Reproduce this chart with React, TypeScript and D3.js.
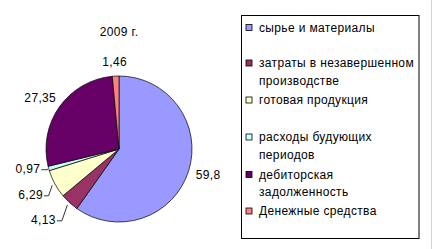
import React from "react";
import * as d3 from "d3";

const title = "2009 г.";
const categories = [
  "сырье и материалы",
  "затраты в незавершенном производстве",
  "готовая продукция",
  "расходы будующих периодов",
  "дебиторская задолженность",
  "Денежные средства",
];
const legendLines = [
  ["сырье и материалы"],
  ["затраты в незавершенном", "производстве"],
  ["готовая продукция"],
  ["расходы будующих", "периодов"],
  ["дебиторская", "задолженность"],
  ["Денежные средства"],
];
const values = [59.8, 4.13, 6.29, 0.97, 27.35, 1.46];
const valueLabels = ["59,8", "4,13", "6,29", "0,97", "27,35", "1,46"];
const colors = ["#9999FF", "#993366", "#FFFFCC", "#CCFFFF", "#660066", "#FF8080"];

// layout
const W = 433;
const H = 249;
const CX = 119;
const CY = 149;
const R = 73;
const FONT = "'Liberation Sans', Arial, sans-serif";
const FS = 12;
const LS = 0.35;
// labels pulled out with leader lines: drop of the leader and length of its horizontal tail
const leaderLayout: Record<number, { gap: number; drop: number; tail: number }> = {
  1: { gap: 3, drop: 16, tail: 5 },
  2: { gap: 3, drop: 10.5, tail: 4.5 },
  3: { gap: 1, drop: 1, tail: 6 },
};
const legendRowCenters = [27.5, 63, 100, 137, 174.5, 211];
const legendLineH = 17.5;

export default function App() {
  const pie = d3.pie<number>().sort(null).value((d) => d);
  const arcs = pie(values);
  const arc = d3.arc<d3.PieArcDatum<number>>().innerRadius(0).outerRadius(R);
  const pt = (a: number, r: number): [number, number] => [
    Math.sin(a) * r,
    -Math.cos(a) * r,
  ];

  return (
    <svg
      width={W}
      height={H}
      style={{ position: "absolute", left: 0, top: 0, background: "#fff" }}
      fontFamily={FONT}
      fontSize={FS}
      letterSpacing={LS}
    >
      <rect x={0} y={0} width={W} height={H} fill="#fff" />
      <line x1={431.5} x2={431.5} y1={0} y2={H} stroke="#d4d4d4" />
      <text x={CX} y={36} textAnchor="middle" fill="#000">
        {title}
      </text>
      <g transform={`translate(${CX},${CY})`}>
        {arcs.map((a, i) => (
          <path
            key={i}
            d={arc(a) || ""}
            fill={colors[i]}
            stroke="#000"
            strokeWidth={0.7}
          />
        ))}
        {arcs.map((a, i) => {
          const mid = (a.startAngle + a.endAngle) / 2;
          const ll = leaderLayout[i];
          if (ll !== undefined) {
            const [sx, sy] = pt(mid, R + ll.gap);
            const ex = sx - ll.drop * 0.35;
            const ey = sy + ll.drop;
            const hx = ex - ll.tail;
            return (
              <g key={"l" + i}>
                <polyline
                  points={`${sx},${sy} ${ex},${ey} ${hx},${ey}`}
                  fill="none"
                  stroke="#000"
                  strokeWidth={0.8}
                />
                <text x={hx - 1} y={ey + 3.5} textAnchor="end" fill="#000">
                  {valueLabels[i]}
                </text>
              </g>
            );
          }
          const s = Math.sin(mid);
          const c = -Math.cos(mid);
          const [px, py] = pt(mid, R + 8);
          const w = valueLabels[i].length * 6.3;
          const tx = px + (s * w) / 2;
          const ty = py + c * 6 + 4;
          return (
            <text key={"t" + i} x={tx} y={ty} textAnchor="middle" fill="#000">
              {valueLabels[i]}
            </text>
          );
        })}
      </g>
      <rect
        x={241.5}
        y={15.5}
        width={177.5}
        height={223}
        fill="#fff"
        stroke="#000"
        strokeWidth={1}
      />
      {categories.map((c, i) => {
        const cy = legendRowCenters[i];
        return (
          <g key={c}>
            <rect
              x={246}
              y={cy - 3}
              width={6}
              height={6}
              fill={colors[i]}
              stroke="#000"
              strokeWidth={0.8}
            />
            {legendLines[i].map((ln, j) => (
              <text key={j} x={259} y={cy + 4 + j * legendLineH} fill="#000">
                {ln}
              </text>
            ))}
          </g>
        );
      })}
    </svg>
  );
}
